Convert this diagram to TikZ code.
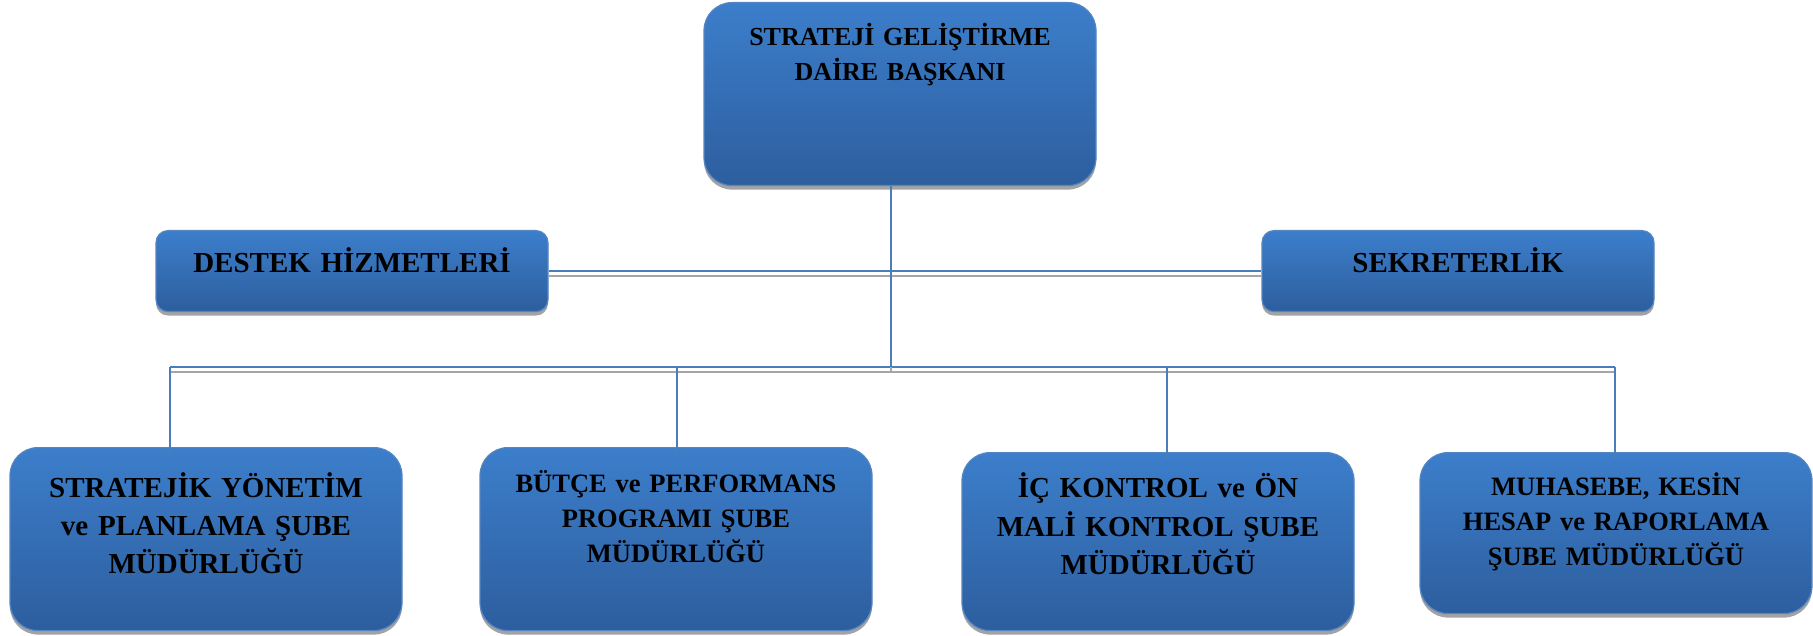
\documentclass[tikz,border=0pt]{standalone}
\usepackage{fontspec}
\setmainfont{Liberation Serif}
\usepackage{tikz}
\usetikzlibrary{shadows}
\definecolor{boxtop}{RGB}{60,126,203}
\definecolor{boxbot}{RGB}{45,94,158}
\definecolor{boxrim}{RGB}{86,134,194}
\definecolor{linkblue}{RGB}{74,126,187}
\definecolor{linkgray}{RGB}{165,165,165}
\newcommand{\bigfont}{\fontsize{29}{38}\selectfont\bfseries}
\newcommand{\midfont}{\fontsize{26.5}{35}\selectfont\bfseries}

\begin{document}
\begin{tikzpicture}[x=1pt,y=-1pt,
  unit/.style={draw=boxrim,line width=1.2pt,top color=boxtop,bottom color=boxbot,
    rounded corners=28pt,inner xsep=6pt,inner ysep=0pt,align=center,anchor=north,
    text width=380pt,
    drop shadow={shadow xshift=0pt,shadow yshift=-4pt,fill=black!36,opacity=1}},
  link/.style={draw=linkblue,line width=2pt,
    preaction={draw=linkgray,line width=2pt,transform canvas={yshift=-5pt}}}]
  \useasboundingbox (0,0) rectangle (1813,636);

  \coordinate (hub) at (891,367);
  \coordinate (d1) at (170,367);
  \coordinate (d2) at (677,367);
  \coordinate (d3) at (1167,367);
  \coordinate (d4) at (1615,367);

  \draw[link] (d1) -- (d4);

  \node[unit,text height=43pt,text depth=140pt,font=\fontsize{26}{35}\selectfont\bfseries]
    (dbs) at (900,2) {STRATEJİ GELİŞTİRME\\DAİRE BAŞKANI};
  \node[unit,rounded corners=12pt,text height=42pt,text depth=39pt,font=\bigfont]
    (dh) at (352,230) {DESTEK HİZMETLERİ};
  \node[unit,rounded corners=12pt,text height=42pt,text depth=39pt,font=\bigfont]
    (sk) at (1458,230) {SEKRETERLİK};

  \draw[link] (dh.east) -- (sk.west);
  \draw[link] (hub |- dbs.south) -- (hub);

  \node[unit,text height=50pt,text depth=133pt,font=\bigfont]
    (sm1) at (206,447) {STRATEJİK YÖNETİM\\ve PLANLAMA ŞUBE\\MÜDÜRLÜĞÜ};
  \node[unit,text height=45pt,text depth=138pt,font=\midfont]
    (sm2) at (676,447) {BÜTÇE ve PERFORMANS\\PROGRAMI ŞUBE\\MÜDÜRLÜĞÜ};
  \node[unit,text height=45pt,text depth=133pt,font=\fontsize{29}{38.5}\selectfont\bfseries]
    (sm3) at (1158,452) {İÇ KONTROL ve ÖN\\MALİ KONTROL ŞUBE\\MÜDÜRLÜĞÜ};
  \node[unit,text height=43pt,text depth=118pt,font=\midfont]
    (sm4) at (1616,452) {MUHASEBE, KESİN\\HESAP ve RAPORLAMA\\ŞUBE MÜDÜRLÜĞÜ};

  \draw[draw=linkblue,line width=2pt,shorten >=-6pt] (d1) -- (d1 |- sm1.north);
  \draw[draw=linkblue,line width=2pt,shorten >=-6pt] (d2) -- (d2 |- sm2.north);
  \draw[draw=linkblue,line width=2pt,shorten >=-6pt] (d3) -- (d3 |- sm3.north);
  \draw[draw=linkblue,line width=2pt,shorten >=-6pt] (d4) -- (d4 |- sm4.north);
\end{tikzpicture}
\end{document}
